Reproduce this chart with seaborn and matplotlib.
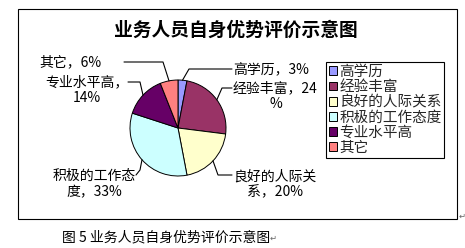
import matplotlib
matplotlib.use("Agg")
import matplotlib.pyplot as plt
import matplotlib.patches as mpatches
import numpy as np
import seaborn as sns

# ---- data ----
categories = ["高学历", "经验丰富", "良好的人际关系", "积极的工作态度", "专业水平高", "其它"]
values = [3, 24, 20, 33, 14, 6]
pie_labels = ["高学历，3%", "经验丰富，24\n%", "良好的人际关\n系，20%",
              "积极的工作态\n度，33%", "专业水平高，\n14%", "其它，6%"]
colors = ["#9999FF", "#993366", "#FFFFCC", "#CCFFFF", "#660066", "#FF8080"]
title = "业务人员自身优势评价示意图"
caption = "图 5 业务人员自身优势评价示意图"

sns.set_theme(style="white")
plt.rcParams["font.family"] = ["Noto Sans CJK SC", "DejaVu Sans"]

W, H = 465, 248
fig = plt.figure(figsize=(W / 100, H / 100), dpi=100)
ax = fig.add_axes([0, 0, 1, 1])

def Y(y):
    return H - y

cx, cy, r = 178, 128, 48
wedges, _ = ax.pie(values, colors=sns.color_palette(colors), startangle=90,
                   counterclock=False, center=(cx, Y(cy)), radius=r,
                   wedgeprops=dict(edgecolor="black", linewidth=0.7))
ax.set_xlim(0, W)
ax.set_ylim(0, H)
ax.set_aspect("equal")
ax.axis("off")

# chart frame
ax.add_patch(mpatches.Rectangle((18, Y(219)), 439, 210, fill=False,
                                edgecolor="black", linewidth=0.8))

ax.text(236, Y(30), title, ha="center", va="center", fontsize=13.5,
        fontweight="bold", color="black")

# label layout: (elbow_x, elbow_y, end_x, end_y, text_x, text_y, ha)
layout = [
    (189, 69, 232, 69, 233, 70, "left"),
    (222, 88, 232, 88, 233, 96, "left"),
    (218, 175, 232, 175, 233, 184, "left"),
    (140, 170, 136, 175, 136, 184, "right"),
    (140, 82, 128, 82, 128, 90, "right"),
    (163, 62, 124, 62, 101, 62, "right"),
]

for w, lab, (ex, ey, nx, ny, tx, ty, ha) in zip(wedges, pie_labels, layout):
    ang = np.deg2rad((w.theta1 + w.theta2) / 2)
    px = cx + r * np.cos(ang)
    py = Y(cy) + r * np.sin(ang)
    ax.plot([px, ex, nx], [py, Y(ey), Y(ny)], color="black", lw=0.8)
    ax.text(tx, Y(ty), lab, ha=ha, va="center", multialignment="center",
            fontsize=10, color="black", linespacing=1.15)

handles = [mpatches.Patch(facecolor=c, edgecolor="black", linewidth=0.7) for c in colors]
leg = fig.legend(handles, categories, loc="upper left",
                 bbox_to_anchor=(326 / W, 1 - 62 / H), borderaxespad=0,
                 fontsize=10.5, handlelength=0.55, handleheight=0.55,
                 handletextpad=0.15, borderpad=0.2, labelspacing=0.08,
                 fancybox=False, frameon=True, framealpha=1)
leg.get_frame().set_edgecolor("black")
leg.get_frame().set_linewidth(0.8)

ax.text(62, Y(237), caption, ha="left", va="center", fontsize=10, color="black")
ax.text(270, Y(238), "↵", ha="left", va="center", fontsize=6, color="#666666")
ax.text(459, Y(216), "↵", ha="left", va="center", fontsize=6, color="#666666")

fig.savefig("out.png", dpi=100)
